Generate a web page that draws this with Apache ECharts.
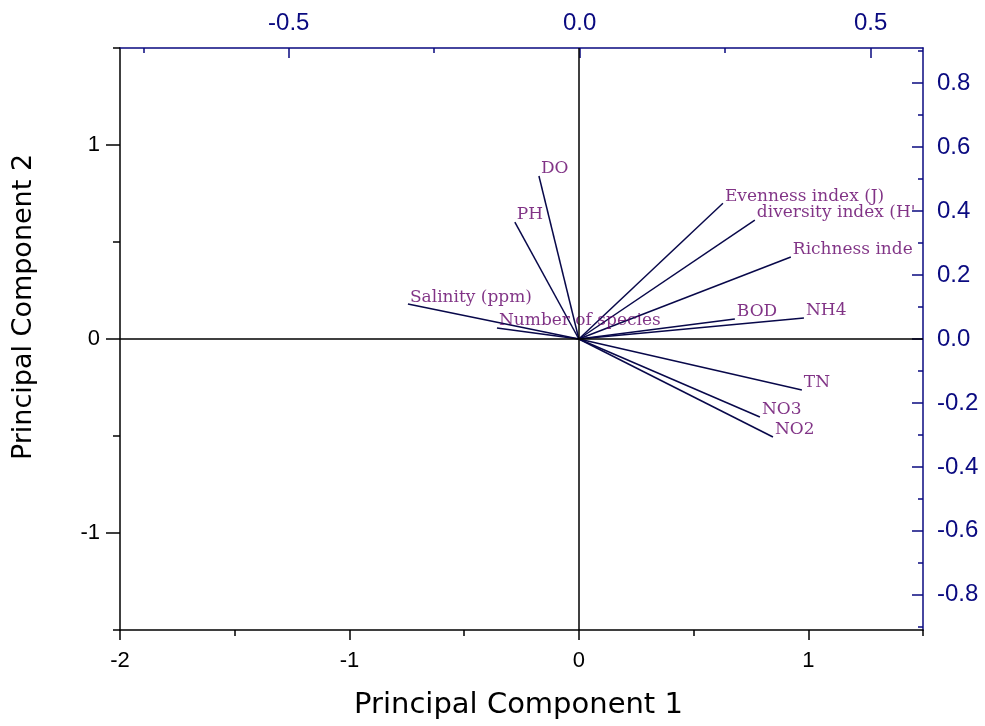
<!DOCTYPE html>
<html>
<head>
<meta charset="utf-8">
<title>PCA biplot</title>
<script src="https://cdn.jsdelivr.net/npm/echarts@6/dist/echarts.min.js"></script>
<style>
    html, body { margin: 0; padding: 0; background: #fff; }
    #main { width: 985px; height: 726px; }
</style>
</head>
<body>
<div id="main"></div>
<script>
// 变量名称与载荷 (PC1, PC2)
var names = ['Salinity (ppm)', 'PH', 'DO', 'Number of species', 'Evenness index (J)', "diversity index (H')",
             'Richness index', 'BOD', 'NH4', 'TN', 'NO3', 'NO2'];
var pc1 = [-0.745, -0.279, -0.174, -0.357, 0.628, 0.767, 0.924, 0.680, 0.981, 0.972, 0.789, 0.846];
var pc2 = [0.180, 0.603, 0.840, 0.057, 0.700, 0.613, 0.423, 0.103, 0.108, -0.263, -0.402, -0.505];

// 坐标轴范围
var xRange = [-2, 1.5];
var yRange = [-1.5, 1.5];
var topRange = [-0.79, 0.59];
var rightRange = [-0.91, 0.91];

// 刻度标签
var bottomLabels = ['-2', '-1', '0', '1'];
var leftLabels = ['-1', '0', '1'];
var topLabels = ['-0.5', '0.0', '0.5'];
var rightLabels = ['-0.8', '-0.6', '-0.4', '-0.2', '0.0', '0.2', '0.4', '0.6', '0.8'];

var black = '#000';
var navy = '#0a0a80';

// 以0.01为步长生成类目，用来画刻度
function cats(range) {
    var a = [];
    for (var k = Math.round(range[0] * 100); k <= Math.round(range[1] * 100); k++) a.push(String(k / 100));
    return a;
}
function hundredths(v) { return Math.round(Number(v) * 100); }
function every(step) {
    return function (i, v) { return hundredths(v) % step === 0; };
}
function fixed1(v) { return Number(v).toFixed(1); }
function plain(v) { return v; }

// 刻度轴（类目轴）
function tickAxis(pos, range, step, len, inside, color, lineShow, labels, fmt, labelStyle) {
    var at = labels ? labels.map(hundredths) : [];
    return {
        type: 'category',
        position: pos,
        data: cats(range),
        boundaryGap: false,
        axisLine: { show: lineShow, onZero: false, lineStyle: { color: color, width: 1.5 } },
        axisTick: { show: true, inside: inside, length: len, interval: every(step),
                    lineStyle: { color: color, width: 1.5 } },
        axisLabel: labels ? Object.assign({
            show: true,
            interval: function (i, v) { return at.indexOf(hundredths(v)) >= 0; },
            formatter: fmt,
            color: color,
            fontFamily: 'Liberation Sans'
        }, labelStyle) : { show: false },
        splitLine: { show: false },
        axisPointer: { show: false }
    };
}

var chart = echarts.init(document.getElementById('main'));

var xAxes = [
    // 数据轴
    { type: 'value', min: xRange[0], max: xRange[1], show: false, axisLine: { onZero: false } },
    // 下方：次刻度 + 标签 + 轴名
    Object.assign(tickAxis('bottom', xRange, 50, 6, false, black, true, bottomLabels, plain,
        { fontSize: 22, margin: 20 }), {
        name: 'Principal Component 1',
        nameLocation: 'middle',
        nameGap: 61,
        nameTextStyle: { fontFamily: 'DejaVu Sans', fontSize: 29, color: black, padding: [0, 6, 0, 0] }
    }),
    // 下方：主刻度
    tickAxis('bottom', xRange, 100, 10, false, black, false, null),
    // 上方
    tickAxis('top', topRange, 25, 5, true, navy, true, topLabels, fixed1, { fontSize: 24, margin: 13 }),
    tickAxis('top', topRange, 50, 10, true, navy, false, null)
];

var yAxes = [
    { type: 'value', min: yRange[0], max: yRange[1], show: false, axisLine: { onZero: false } },
    // 左侧
    Object.assign(tickAxis('left', yRange, 50, 7, false, black, true, leftLabels, plain,
        { fontSize: 22, margin: 20 }), {
        name: 'Principal Component 2',
        nameLocation: 'middle',
        nameGap: 83,
        nameRotate: 90,
        nameTextStyle: { fontFamily: 'DejaVu Sans', fontSize: 27, color: black, padding: [0, 0, 0, 64] }
    }),
    tickAxis('left', yRange, 100, 14, false, black, false, null),
    // 右侧
    tickAxis('right', rightRange, 10, 5, true, navy, true, rightLabels, fixed1, { fontSize: 24, margin: 14 }),
    tickAxis('right', rightRange, 20, 11, true, navy, false, null)
];

var option = {
    animation: false,
    backgroundColor: '#fff',
    grid: { left: 120, right: 62, top: 48, bottom: 96, containLabel: false, outerBoundsMode: 'none' },
    xAxis: xAxes,
    yAxis: yAxes,
    series: [
        {
            // 载荷向量
            type: 'lines',
            coordinateSystem: 'cartesian2d',
            xAxisIndex: 0,
            yAxisIndex: 0,
            silent: true,
            lineStyle: { color: '#08084a', width: 1.5, opacity: 1 },
            data: pc1.map(function (x, i) { return { coords: [[0, 0], [x, pc2[i]]] }; }),
            markLine: {
                silent: true,
                symbol: 'none',
                label: { show: false },
                lineStyle: { color: black, width: 1.5, type: 'solid' },
                data: [{ xAxis: 0 }, { yAxis: 0 }]
            },
            z: 2
        },
        {
            // 向量末端的变量名
            type: 'scatter',
            xAxisIndex: 0,
            yAxisIndex: 0,
            symbolSize: 0,
            silent: true,
            label: {
                show: true,
                position: 'right',
                distance: 2,
                offset: [0, -7],
                formatter: '{b}',
                color: '#620068',
                fontFamily: 'DejaVu Serif',
                fontSize: 17,
                overflow: 'truncate',
                ellipsis: ''
            },
            data: pc1.map(function (x, i) { return { name: names[i], value: [x, pc2[i]] }; }),
            z: 3
        }
    ]
};

chart.setOption(option);

// 标签在右边框处截断
var xRight = chart.convertToPixel({ xAxisIndex: 0 }, xRange[1]);
chart.setOption({
    series: [{}, {
        data: pc1.map(function (x, i) {
            var px = chart.convertToPixel({ xAxisIndex: 0 }, x);
            return { name: names[i], value: [x, pc2[i]], label: { width: xRight - px - 3 } };
        })
    }]
});
</script>
</body>
</html>
